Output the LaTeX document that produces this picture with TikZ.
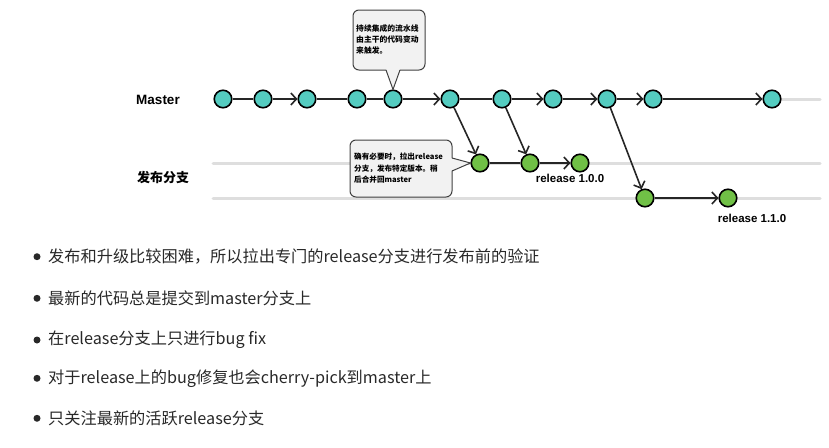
\documentclass[tikz,border=0pt]{standalone}
\usepackage{fontspec}
\setmainfont{Liberation Sans}
\newfontfamily\cjk{Noto Sans CJK SC}
\usetikzlibrary{arrows.meta}
\definecolor{mteal}{RGB}{84,204,192}
\definecolor{rgreen}{RGB}{112,192,70}
\definecolor{lanegray}{RGB}{222,222,222}
\definecolor{bubblefill}{RGB}{242,242,242}
\definecolor{bodytext}{RGB}{40,40,40}
\begin{document}
\begin{tikzpicture}[x=1pt,y=-1pt,
  commit/.style={circle,draw=black,line width=1.6pt,minimum size=17.5pt,inner sep=0pt},
  mc/.style={commit,fill=mteal},
  rc/.style={commit,fill=rgreen},
  link/.style={line width=1.6pt,draw=black!85},
  arr/.style={link,-{Straight Barb[length=5.5pt,width=12pt,line width=1.6pt]}},
  lanestyle/.style={line width=3pt,draw=lanegray,line cap=round},
  bubbleedge/.style={draw=black!75,line width=1pt},
  bubble/.style={bubbleedge,fill=bubblefill,rounded corners=6pt,inner sep=0pt},
  tinytext/.style={font=\cjk\bfseries\fontsize{7.8}{10.8}\selectfont,align=left,inner sep=0pt,anchor=west},
  lbl/.style={font=\bfseries\fontsize{13.5}{15}\selectfont,inner sep=0pt},
  rellbl/.style={font=\bfseries\fontsize{11.5}{13}\selectfont,inner sep=0pt},
  bullettext/.style={font=\cjk\fontsize{16.2}{18}\selectfont,text=bodytext,anchor=west,inner sep=0pt},
  dot/.style={circle,fill=bodytext,minimum size=7pt,inner sep=0pt}
]
\useasboundingbox (0,0) rectangle (829,447);

% lanes
\draw[lanestyle] (213,163) -- (820,163);
\draw[lanestyle] (213,198) -- (820,198);
\draw[lanestyle] (772,99) -- (820,99);

% labels
\node[lbl] (lmaster) at (158,100) {Master};
\node[lbl,font=\cjk\bfseries\fontsize{13}{15}\selectfont] (lrel) at (163,178) {发布分支};

% master commits
\node[mc] (m1) at (223,99) {};
\node[mc] (m2) at (263,99) {};
\node[mc] (m3) at (307,99) {};
\node[mc] (m4) at (357,99) {};
\node[mc] (m5) at (393,99) {};
\node[mc] (m6) at (450,99) {};
\node[mc] (m7) at (502,99) {};
\node[mc] (m8) at (553,99) {};
\node[mc] (m9) at (607,99) {};
\node[mc] (m10) at (653,99) {};
\node[mc] (m11) at (772,99) {};

% release commits
\node[rc] (r1) at (480,163) {};
\node[rc] (r2) at (530,163) {};
\node[rc] (r3) at (580,163) {};
\node[rc] (s1) at (645,198) {};
\node[rc] (s2) at (728,198) {};

% master connectors
\draw[link] (m1) -- (m2);
\draw[arr] (m2) -- (m3);
\draw[link] (m3) -- (m4);
\draw[link] (m4) -- (m5);
\draw[arr] (m5) -- (m6);
\draw[link] (m6) -- (m7);
\draw[arr] (m7) -- (m8);
\draw[arr] (m8) -- (m9);
\draw[arr] (m9) -- (m10);
\draw[arr] (m10) -- (m11);

% branch connectors
\draw[arr] (m6) -- (r1);
\draw[arr] (m7) -- (r2);
\draw[arr] (m9) -- (s1);
\draw[link] (r1) -- (r2);
\draw[arr] (r2) -- (r3);
\draw[arr] (s1) -- (s2);

\node[rellbl] (rl1) at (570,178) {release 1.0.0};
\node[rellbl] (rl2) at (752,218) {release 1.1.0};

% top bubble
\node[bubble,minimum width=72pt,minimum height=60pt] (tb) at (389,40) {};
\coordinate (tba) at (386,69);
\coordinate (tbb) at (400,69);
\coordinate (tbtip) at (m5.north);
\fill[bubblefill] (tba) -- (tbtip) -- (tbb) -- cycle;
\draw[bubbleedge] (386,70) -- (tbtip) -- (400,70);
\node[tinytext] (tbt) at (356,39.5) {持续集成的流水线\\由主干的代码变动\\来触发。};

% bottom bubble
\node[bubble,minimum width=102pt,minimum height=57pt] (bb) at (401,168.5) {};
\coordinate (bba) at (451,158);
\coordinate (bbb) at (451,171);
\coordinate (bbtip) at (r1.west);
\fill[bubblefill] (bba) -- (bbtip) -- (bbb) -- cycle;
\draw[bubbleedge] (452,158) -- (bbtip) -- (452,171);
\node[tinytext,font=\cjk\bfseries\fontsize{7.6}{11.5}\selectfont] (bbt) at (354,168.5) {确有必要时，拉出release\\分支，发布特定版本。稍\\后合并回master};

% bullets
\foreach \yy/\txt [count=\i] in {256.7/{发布和升级比较困难，所以拉出专门的release分支进行发布前的验证},
  298.3/{最新的代码总是提交到master分支上},
  340/{在release分支上只进行bug fix},
  378.3/{对于release上的bug修复也会cherry-pick到master上},
  418.3/{只关注最新的活跃release分支}} {
  \node[dot] (d\i) at (37,\yy) {};
  \node[bullettext] (b\i) at (48,\yy) {\txt};
}
\end{tikzpicture}
\end{document}
